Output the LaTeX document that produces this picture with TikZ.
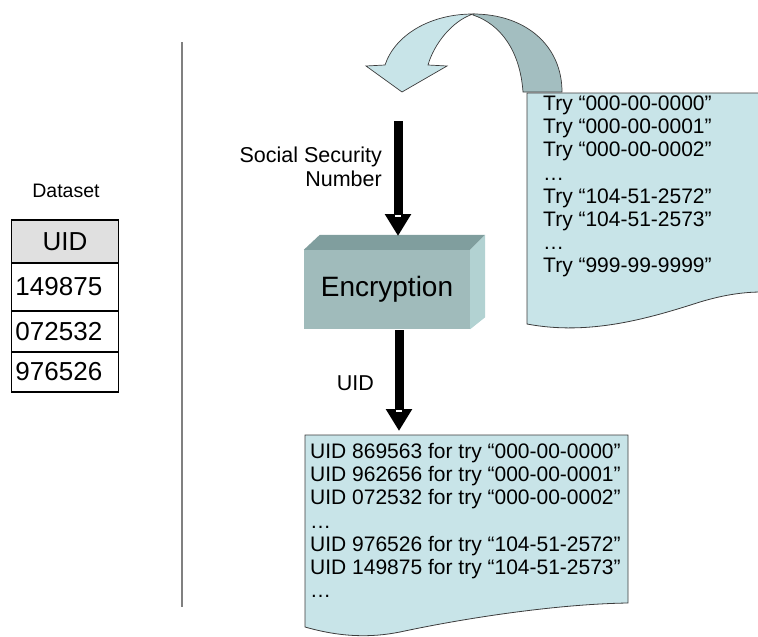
\documentclass[tikz,border=0pt]{standalone}
\usepackage{fontspec}
\setmainfont{Liberation Sans}
\usetikzlibrary{arrows.meta}
\definecolor{docfill}{RGB}{200,228,232}
\definecolor{banddark}{RGB}{163,190,192}
\definecolor{facefront}{RGB}{160,187,187}
\definecolor{facetop}{RGB}{128,158,158}
\definecolor{faceside}{RGB}{178,210,210}
\definecolor{hdrfill}{RGB}{224,224,224}
\definecolor{rulegray}{RGB}{128,128,128}
\definecolor{edgegray}{RGB}{60,60,60}
\begin{document}
\begin{tikzpicture}[x=1pt,y=-1pt,
  doc/.style={fill=docfill, draw=edgegray, line width=0.8pt},
  band/.style={draw=edgegray, line width=0.7pt},
  cell/.style={draw, line width=1.8pt, minimum width=107pt, inner ysep=0pt, inner xsep=4pt,
    text width=99pt, font=\fontsize{26}{30}\selectfont},
  lbl/.style={font=\fontsize{21.5}{24}\selectfont, inner sep=0pt},
  doctext/.style={font=\fontsize{21}{24}\selectfont, inner sep=0pt, anchor=base west},
  blockarrow/.style={line width=9pt, -{Triangle[width=25pt,length=22pt]}},
  notch/.style={fill=white, draw=none},
]
\useasboundingbox (0,0) rectangle (758,637);

% divider
\coordinate (divtop) at (182,42);
\coordinate (divbot) at (182,607);
\draw[rulegray, line width=2pt] (divtop) -- (divbot);

% dataset table
\node[inner sep=0pt, anchor=base, font=\fontsize{19.5}{22}\selectfont] (dslabel) at (66,197) {Dataset};
\node[cell, fill=hdrfill, minimum height=43pt, align=center] (hdr) at (65,241.5) {UID};
\node[cell, minimum height=48pt, align=left] (r1) at (65,287) {149875};
\node[cell, minimum height=41pt, align=left] (r2) at (65,331.5) {072532};
\node[cell, minimum height=40pt, align=left] (r3) at (65,372) {976526};

% encryption box
\node[fill=facefront, minimum width=166pt, minimum height=79pt, inner sep=0pt,
      font=\fontsize{28}{32}\selectfont] (enc) at (387,289.5) {Encryption};
\fill[facetop] (enc.north west) -- ++(16,-15) -- ([xshift=15pt,yshift=15pt]enc.north east) -- (enc.north east) -- cycle;
\fill[faceside] (enc.north east) -- ([xshift=15pt,yshift=15pt]enc.north east) -- ([xshift=15pt,yshift=12pt]enc.south east) -- (enc.south east) -- cycle;

% curved arrow (ribbon)
\path[band, fill=banddark]
  (473,14) .. controls (525,14) and (562,45) .. (562,92)
  -- (523,92) .. controls (520,50) and (500,24) .. (473,15) -- cycle;
\path[band, fill=docfill]
  (385,65) .. controls (395,35) and (430,14) .. (473,14)
  .. controls (452,21) and (434,44) .. (428,65)
  -- (447,66) -- (402,92) -- (366,66) -- cycle;

% right document
\path[doc] (527,93) -- (762,93) -- (762,292)
  .. controls (740,292) and (720,296) .. (700,302)
  .. controls (650,318) and (590,336) .. (527,324) -- cycle;
\foreach \t [count=\i from 0] in {Try “000-00-0000”,Try “000-00-0001”,Try “000-00-0002”,…,Try “104-51-2572”,Try “104-51-2573”,…,Try “999-99-9999”}
  \node[doctext] (try\i) at (543,110.5+23.2*\i) {\t};

% bottom document
\path[doc] (305,435) -- (628,435) -- (628,603)
  .. controls (560,604) and (470,617) .. (400,632)
  .. controls (370,638) and (340,637) .. (305,627) -- cycle;
\foreach \t [count=\i from 0] in {UID 869563 for try “000-00-0000”,UID 962656 for try “000-00-0001”,UID 072532 for try “000-00-0002”,…,UID 976526 for try “104-51-2572”,UID 149875 for try “104-51-2573”,…}
  \node[doctext] (res\i) at (310,458.5+23.2*\i) {\t};

% straight arrows
\coordinate (ssnstart) at (398,121);
\coordinate (encin) at (398,236);
\coordinate (encout) at (399,330);
\coordinate (resin) at (399,431);
\draw[blockarrow] (ssnstart) -- (encin);
\fill[notch] (395,214.5) rectangle (401,217);
\draw[blockarrow] (encout) -- (resin);
\fill[notch] (396,409.5) rectangle (402,412);

% labels
\node[lbl, anchor=base east] (ssn1) at (382,162) {Social Security};
\node[lbl, anchor=base east] (ssn2) at (382,186) {Number};
\node[lbl, anchor=base east] (uidlbl) at (374,390) {UID};
\end{tikzpicture}
\end{document}
